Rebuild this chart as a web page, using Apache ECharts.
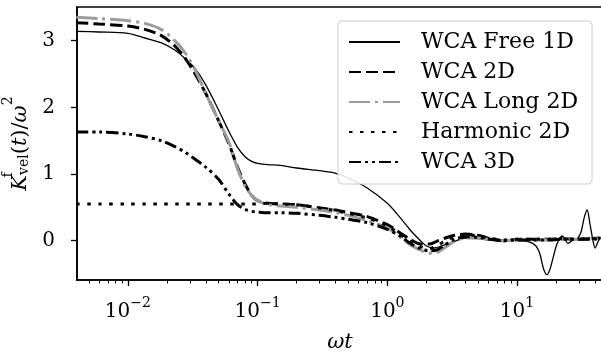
<!DOCTYPE html>
<html><head><meta charset="utf-8">
<script src="https://cdn.jsdelivr.net/npm/echarts@6/dist/echarts.min.js"></script>
<style>html,body{margin:0;padding:0;background:#fff}#c{width:601px;height:353px}</style>
</head><body><div id="c"></div>
<script>
// ---- data ----
const tCommon = [0.004,0.006,0.01,0.0135,0.018,0.023,0.028,0.033,0.04,0.05,0.06,0.07,0.08,0.09,0.1,0.12,0.15,0.2,0.3,0.4,0.5,0.7,1.0,1.25,1.5,1.8,2.1,2.4,2.8,3.3,4,5,6.5,8,10,13,17,22,28,35,44];
const wca2D   = [3.27,3.25,3.22,3.17,3.08,2.92,2.72,2.50,2.20,1.80,1.46,1.10,0.85,0.68,0.60,0.56,0.55,0.54,0.49,0.46,0.42,0.36,0.24,0.12,0.02,-0.05,-0.05,-0.01,0.04,0.08,0.10,0.08,0.02,0.00,0.02,0.02,0.02,0.03,0.02,0.03,0.04];
const wcaLong2D=[3.35,3.33,3.30,3.26,3.17,3.00,2.80,2.56,2.20,1.80,1.48,1.08,0.82,0.68,0.60,0.54,0.52,0.50,0.46,0.42,0.38,0.30,0.19,0.06,-0.06,-0.14,-0.19,-0.18,-0.10,-0.01,0.04,0.04,0.01,0.00,0.01,0.01,0.01,0.02,0.02,0.02,0.03];
const harm2D  = [0.55,0.55,0.55,0.55,0.55,0.55,0.55,0.55,0.55,0.55,0.55,0.55,0.55,0.55,0.55,0.56,0.55,0.54,0.49,0.45,0.41,0.34,0.22,0.10,-0.01,-0.09,-0.12,-0.08,0.00,0.06,0.09,0.07,0.03,0.01,0.02,0.02,0.02,0.03,0.02,0.03,0.04];
const wca3D   = [1.63,1.63,1.60,1.56,1.50,1.41,1.32,1.22,1.10,0.92,0.70,0.54,0.47,0.44,0.43,0.42,0.42,0.41,0.38,0.35,0.32,0.27,0.17,0.07,-0.04,-0.12,-0.15,-0.14,-0.06,0.02,0.06,0.05,0.02,0.00,0.01,0.01,0.01,0.02,0.02,0.02,0.03];
const tFree1D = [0.004,0.006,0.01,0.0135,0.018,0.023,0.028,0.033,0.04,0.05,0.06,0.07,0.08,0.09,0.1,0.12,0.15,0.2,0.3,0.4,0.5,0.7,1.0,1.25,1.5,1.8,2.0,2.3,2.7,3.2,4.0,5.0,7.0,10,12.5,14,15,16,17,18,19,20.3,21.5,22.2,23.3,24.7,26.5,29,31,33,34.7,36.5,38.5,40,42,44];
const free1D  = [3.14,3.13,3.11,3.04,2.97,2.86,2.72,2.58,2.33,1.96,1.64,1.40,1.26,1.19,1.16,1.14,1.13,1.09,1.05,1.01,0.94,0.79,0.56,0.35,0.16,0.00,-0.08,-0.11,-0.07,-0.02,0.04,0.03,0.00,0.00,-0.02,-0.08,-0.20,-0.42,-0.51,-0.42,-0.25,-0.05,0.04,0.07,0.03,-0.04,0.00,0.03,0.12,0.35,0.46,0.25,0.00,-0.11,-0.02,0.05];
const seriesNames = ['WCA Free 1D','WCA 2D','WCA Long 2D','Harmonic 2D','WCA 3D'];
const xMajorTicks = [0.01,0.1,1,10];
const xMinorTicks = [0.005,0.006,0.007,0.008,0.009,0.02,0.03,0.04,0.05,0.06,0.07,0.08,0.09,0.2,0.3,0.4,0.5,0.6,0.7,0.8,0.9,2,3,4,5,6,7,8,9,20,30,40];
const yTicks = [0,1,2,3];

const FONT = 'DejaVu Serif';
function pairs(xs, ys){ return xs.map((x,i)=>[x, ys[i]]); }
function mk(name, xs, ys, color, width, type, z){
  return {name, type:'line', xAxisIndex:0, data: pairs(xs, ys), showSymbol:false, symbol:'none', smooth:0.3, z,
    lineStyle:{color, width, type, cap:'butt'}, itemStyle:{color}, emphasis:{disabled:true}};
}
const chart = echarts.init(document.getElementById('c'), null, {renderer:'canvas'});
const xCommon = {type:'log', min:0.00405, max:46, gridIndex:0, position:'bottom', splitLine:{show:false}};
chart.setOption({
  animation:false,
  backgroundColor:'#fff',
  grid:{left:77, top:7, right:-2, bottom:73, containLabel:false, outerBoundsMode:'none',
        show:true, borderColor:'#000', borderWidth:1.5, backgroundColor:'transparent'},
  legend:{
    orient:'vertical', left:338, top:21, padding:[10,14,11,10], itemGap:8, itemWidth:51, itemHeight:14,
    backgroundColor:'rgba(255,255,255,0.85)', borderColor:'#cccccc', borderWidth:1, borderRadius:4,
    itemStyle:{opacity:0},
    data: seriesNames,
    textStyle:{fontFamily:FONT, fontSize:22, color:'#000', lineHeight:20, padding:[0,0,0,16]}
  },
  xAxis:[
    Object.assign({}, xCommon, {
      name:'ωt', nameLocation:'middle', nameGap:52,
      nameTextStyle:{fontFamily:FONT, fontSize:21, fontStyle:'italic', color:'#000'},
      axisLine:{show:true, onZero:false, lineStyle:{color:'#000', width:1.6}},
      axisTick:{show:true, customValues:xMajorTicks, length:6, lineStyle:{color:'#000', width:1.3}},
      axisLabel:{show:true, customValues:xMajorTicks, margin:16, color:'#000',
        formatter:function(v){ const e=Math.round(Math.log10(v)); return '{b|10}{s|'+(e<0?'\u2212'+(-e):e)+'}'; },
        rich:{b:{fontFamily:FONT, fontSize:20, lineHeight:26, verticalAlign:'bottom', color:'#000'},
              s:{fontFamily:FONT, fontSize:14, lineHeight:14, verticalAlign:'top', color:'#000'}}}
    }),
    Object.assign({}, xCommon, {
      axisLine:{show:false, onZero:false},
      axisTick:{show:true, customValues:xMinorTicks, length:3.5, lineStyle:{color:'#000', width:1}},
      axisLabel:{show:false}
    })
  ],
  yAxis:{
    type:'value', min:-0.59, max:3.505, splitLine:{show:false},
    axisLine:{show:true, onZero:false, lineStyle:{color:'#000', width:1.6}},
    axisTick:{show:true, customValues:yTicks, length:6, lineStyle:{color:'#000', width:1.3}},
    axisLabel:{show:true, customValues:yTicks, margin:22, color:'#000', fontFamily:FONT, fontSize:20},
    name:'{k|K}{f|f}{v|vel}{n|(}{i|t}{n|)/}{i|ω}{s|2}', nameLocation:'middle', nameGap:37,
    nameTextStyle:{color:'#000', rich:{
      k:{fontFamily:FONT, fontSize:21, fontStyle:'italic', lineHeight:30, verticalAlign:'bottom'},
      f:{fontFamily:FONT, fontSize:14, lineHeight:14, verticalAlign:'top', width:0},
      v:{fontFamily:FONT, fontSize:14, lineHeight:14, verticalAlign:'bottom'},
      n:{fontFamily:FONT, fontSize:21, lineHeight:30, verticalAlign:'bottom'},
      i:{fontFamily:FONT, fontSize:21, fontStyle:'italic', lineHeight:30, verticalAlign:'bottom'},
      s:{fontFamily:FONT, fontSize:14, lineHeight:14, verticalAlign:'top'}
    }}
  },
  series:[
    mk(seriesNames[0], tFree1D, free1D, '#000', 1.3, 'solid', 2),
    mk(seriesNames[1], tCommon, wca2D, '#000', 3, [12,5], 3),
    mk(seriesNames[2], tCommon, wcaLong2D, '#9c9c9c', 3, [21,5,3,5], 4),
    mk(seriesNames[3], tCommon, harm2D, '#000', 3, [3.5,7.5], 5),
    mk(seriesNames[4], tCommon, wca3D, '#000', 3, [12,4,3,4,3,4], 6)
  ]
});
</script></body></html>
